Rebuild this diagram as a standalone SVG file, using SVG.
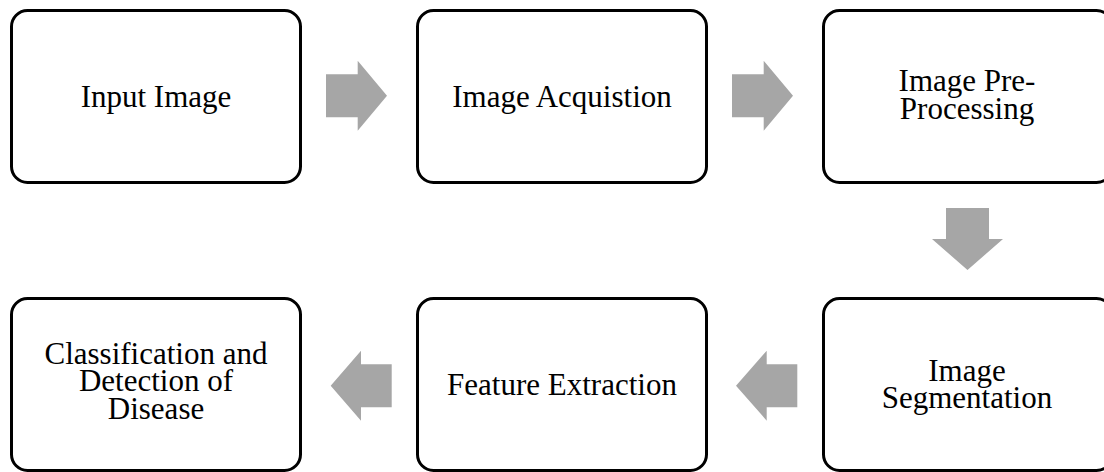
<svg xmlns="http://www.w3.org/2000/svg" width="1104" height="472" viewBox="0 0 1104 472">
  <style>
    .box { fill: #ffffff; stroke: #000000; stroke-width: 3; }
    .label { font-family: "Liberation Serif", "Times New Roman", serif; font-size: 31px; fill: #000000; text-anchor: middle; }
    .arrow { fill: #a6a6a6; stroke: none; }
  </style>
  <rect width="1104" height="472" fill="#ffffff"/>

  <!-- top row -->
  <g id="node-input-image">
    <rect class="box" x="11.5" y="10.5" width="289" height="172" rx="16"/>
    <text class="label" x="156" y="107">Input Image</text>
  </g>
  <g id="node-image-acquisition">
    <rect class="box" x="417.5" y="10.5" width="289" height="172" rx="16"/>
    <text class="label" x="562" y="107">Image Acquistion</text>
  </g>
  <g id="node-pre-processing">
    <rect class="box" x="823.5" y="10.5" width="289" height="172" rx="16"/>
    <text class="label" x="967" y="91">Image Pre-</text>
    <text class="label" x="967" y="118.5">Processing</text>
  </g>

  <!-- bottom row -->
  <g id="node-segmentation">
    <rect class="box" x="823.5" y="298.5" width="289" height="172" rx="16"/>
    <text class="label" x="967" y="380.5">Image</text>
    <text class="label" x="967" y="408">Segmentation</text>
  </g>
  <g id="node-feature-extraction">
    <rect class="box" x="417.5" y="298.5" width="289" height="172" rx="16"/>
    <text class="label" x="562" y="395">Feature Extraction</text>
  </g>
  <g id="node-classification">
    <rect class="box" x="11.5" y="298.5" width="289" height="172" rx="16"/>
    <text class="label" x="156" y="363.5">Classification and</text>
    <text class="label" x="156" y="391">Detection of</text>
    <text class="label" x="156" y="418.5">Disease</text>
  </g>

  <!-- block arrows between steps -->
  <g id="connectors">
    <polygon class="arrow" points="326,74.3 357.7,74.3 357.7,60.7 387,95.7 357.7,130.7 357.7,117.3 326,117.3"/>
    <polygon class="arrow" points="732,74.3 763.7,74.3 763.7,60.7 793,95.7 763.7,130.7 763.7,117.3 732,117.3"/>
    <polygon class="arrow" points="946,208 989,208 989,239 1003,239 967.5,270 932,239 946,239"/>
    <polygon class="arrow" points="797.3,364.3 766.7,364.3 766.7,350.7 736,385.7 766.7,420.7 766.7,407.3 797.3,407.3"/>
    <polygon class="arrow" points="391.7,364.3 361,364.3 361,350.7 330.7,385.7 361,420.7 361,407.3 391.7,407.3"/>
  </g>
</svg>
